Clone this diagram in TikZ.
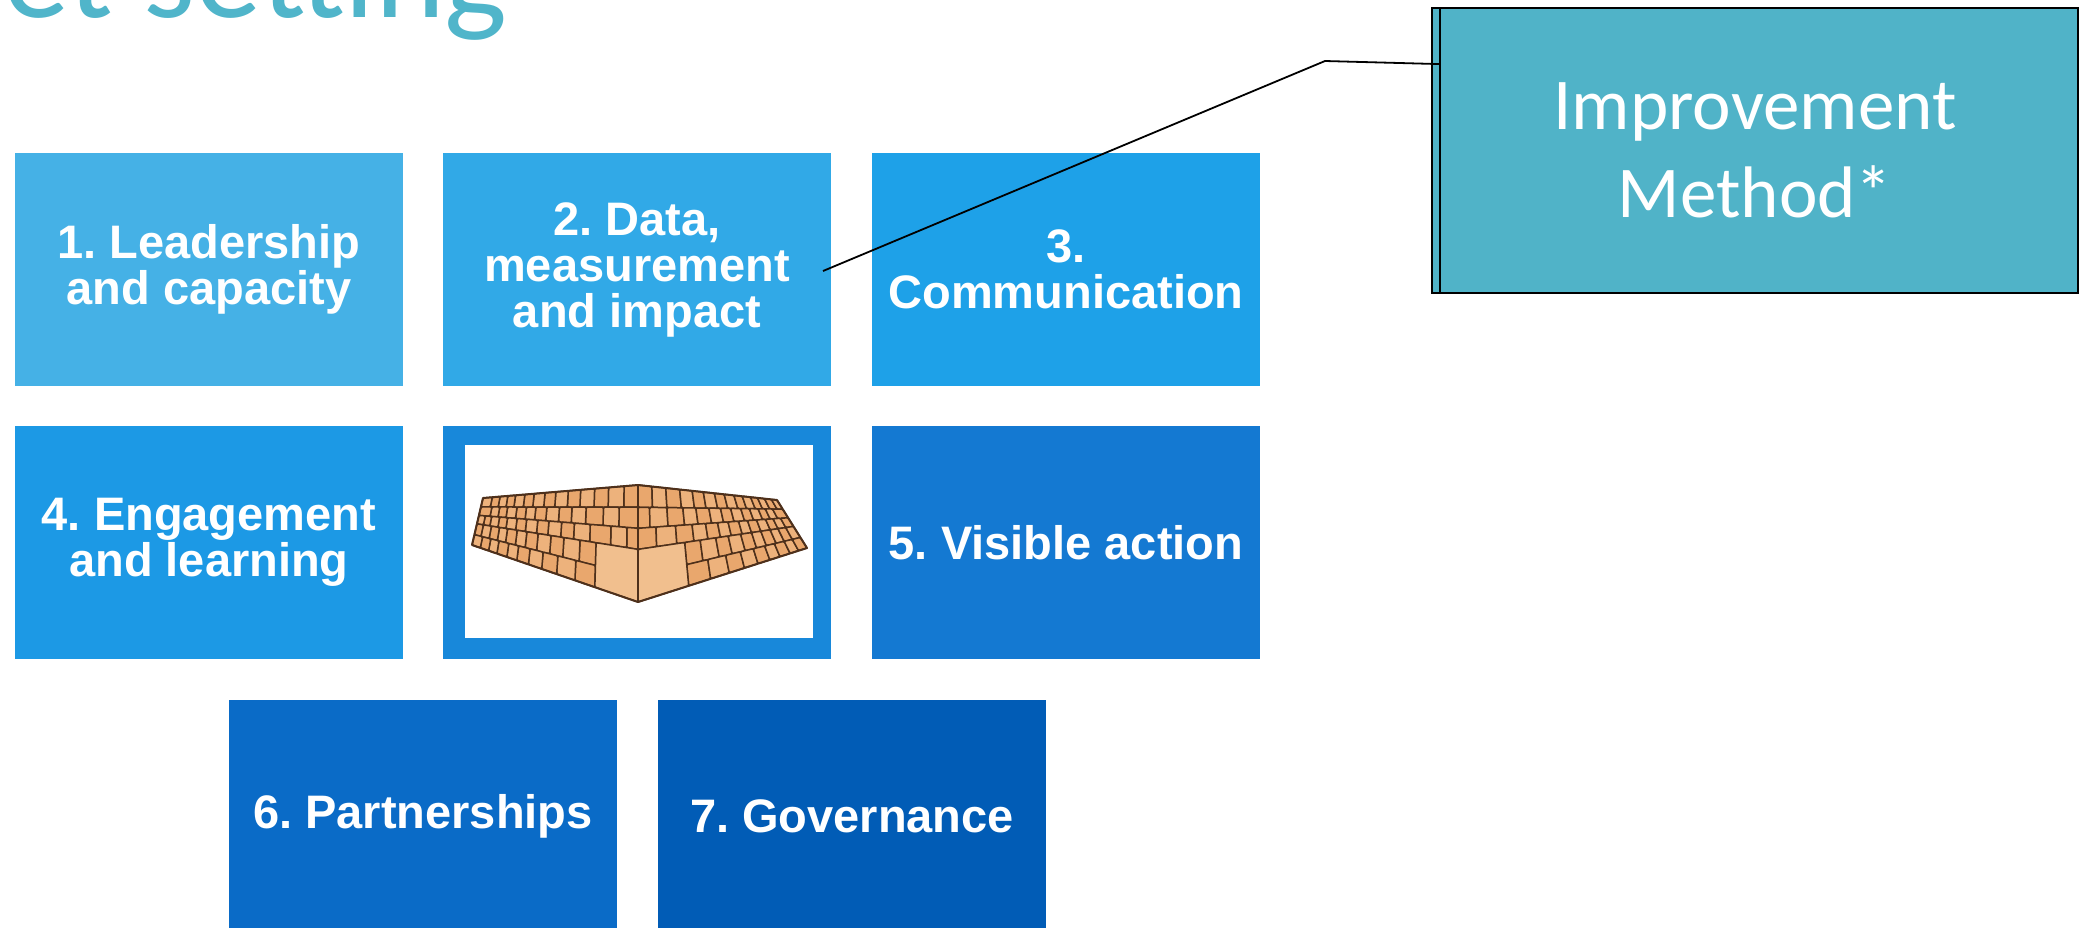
\documentclass[tikz,border=0pt]{standalone}
\usepackage{fontspec}
\setmainfont{Liberation Sans}
\newfontfamily\calibrifont{Carlito}
\usetikzlibrary{calc}
\frenchspacing

\definecolor{tileone}{HTML}{45B1E6}
\definecolor{tiletwo}{HTML}{31A9E7}
\definecolor{tilethree}{HTML}{1EA1E8}
\definecolor{tilefour}{HTML}{1C99E5}
\definecolor{tilewall}{HTML}{1888DA}
\definecolor{tilefive}{HTML}{1479D2}
\definecolor{tilesix}{HTML}{0A6BC7}
\definecolor{tileseven}{HTML}{015CB6}
\definecolor{calloutteal}{HTML}{50B3C8}
\definecolor{titleteal}{HTML}{50B5CA}
\definecolor{stonetan}{HTML}{E9A76D}
\definecolor{stonetanalt}{HTML}{EDB27C}
\definecolor{stonebig}{HTML}{F1BF8E}
\definecolor{stoneedge}{HTML}{4E301B}

% row of the wall: corner point and far point at fraction #3 of the height
\newcommand\wallrow[3]{%
  \coordinate (#1#2c) at ($(#1Ct)!#3!(#1Cb)$);
  \coordinate (#1#2f) at ($(#1Ft)!#3!(#1Fb)$);}
% one stone on face #1 between rows #2 and #3, from #4 to #5 along the face
\newcommand\wallstone[6]{%
  \filldraw[#6] ($(#1#2c)!#4!(#1#2f)$) -- ($(#1#2c)!#5!(#1#2f)$)
    -- ($(#1#3c)!#5!(#1#3f)$) -- ($(#1#3c)!#4!(#1#3f)$) -- cycle;}
% a course of stones: face, rows, first edge, remaining edges
\newcommand\stonecourse[5]{%
  \foreach \s [remember=\s as \p (initially #4), count=\k] in {#5}{%
    \ifodd\k \wallstone{#1}{#2}{#3}{\p}{\s}{stone}%
    \else \wallstone{#1}{#2}{#3}{\p}{\s}{stonealt}\fi}}

\begin{document}
\begin{tikzpicture}[x=0.5pt,y=-0.5pt,
  tile/.style={rectangle, minimum width=194pt, minimum height=116.5pt,
    inner sep=0pt, text=white, align=center,
    font=\bfseries\fontsize{23.5}{23}\selectfont},
  callout/.style={rectangle, draw=black, line width=0.9pt, fill=calloutteal,
    minimum width=323pt, minimum height=142.5pt, inner sep=0pt,
    text=white, align=center, font=\calibrifont\fontsize{36.5}{44}\selectfont},
  leader/.style={draw=black, line width=0.9pt},
  stone/.style={fill=stonetan, draw=stoneedge, line width=0.75pt, rounded corners=0.6pt},
  stonealt/.style={stone, fill=stonetanalt},
  bigstone/.style={stone, fill=stonebig}]

\useasboundingbox (0,0) rectangle (2088,927);
\fill[white] (0,0) rectangle (2088,927);
\clip (0,0) rectangle (2088,927);

% heading
\node[anchor=base west, inner sep=0pt, text=titleteal,
  font=\calibrifont\fontsize{66.5}{70}\selectfont] (title) at (3,17) {et setting};

% tiles
\node[tile, fill=tileone]   (b1) at (209,269.5) {1. Leadership\\and capacity};
\node[tile, fill=tiletwo]   (b2) at (637,269.5) {2. Data,\\measurement\\and impact};
\node[tile, fill=tilethree] (b3) at (1066,269.5) {3.\\Communication};
\node[tile, fill=tilefour]  (b4) at (209,542.5) {4. Engagement\\and learning};
\node[tile, fill=tilewall]  (bw) at (637,542.5) {};
\node[tile, fill=tilefive]  (b5) at (1066,542.5) {5. Visible action};
\node[tile, fill=tilesix]   (b6) at (423,816.5) {6. Partnerships};
\node[tile, fill=tileseven] (b7) at (852,816.5) {7. Governance};

% picture panel with the stone wall
\node[rectangle, fill=white, minimum width=174pt, minimum height=96.5pt,
  inner sep=0pt] (wallpanel) at (639,541.5) {};

\coordinate (LCt) at (638,485); \coordinate (LCb) at (638,602);
\coordinate (LFt) at (483,498); \coordinate (LFb) at (472,545);
\coordinate (RCt) at (638,485); \coordinate (RCb) at (638,602);
\coordinate (RFt) at (777,500); \coordinate (RFb) at (807,548);

\fill[stoneedge] (LFt) -- (LCt) -- (RFt) -- (RFb) -- (RCb) -- (LFb) -- cycle;

\foreach \f in {L,R}{
  \wallrow{\f}{0}{0}
  \wallrow{\f}{1}{0.19}
  \wallrow{\f}{2}{0.37}
  \wallrow{\f}{3}{0.55}
  \wallrow{\f}{4}{0.78}
  \wallrow{\f}{5}{1}
}

% left face
\stonecourse{L}{0}{1}{0}{.09,.19,.28,.37,.45,.53,.60,.67,.73,.79,.84,.89,.94,1}
\stonecourse{L}{1}{2}{0}{.12,.22,.33,.42,.50,.58,.65,.71,.77,.83,.88,.93,1}
\stonecourse{L}{2}{3}{0}{.07,.17,.30,.40,.48,.56,.63,.70,.76,.82,.87,.92,.96,1}
\stonecourse{L}{3}{4}{.26}{.36,.46,.54,.62,.69,.75,.81,.86,.91,.96,1}
\stonecourse{L}{4}{5}{.26}{.38,.49,.58,.66,.73,.79,.85,.90,.95,1}
\wallstone{L}{3}{5}{0}{.26}{bigstone}

% right face
\stonecourse{R}{0}{1}{0}{.10,.20,.30,.39,.47,.55,.62,.69,.75,.81,.86,.91,.96,1}
\stonecourse{R}{1}{2}{0}{.08,.20,.31,.40,.49,.57,.64,.71,.77,.83,.88,.93,1}
\stonecourse{R}{2}{3}{0}{.12,.25,.36,.45,.53,.60,.67,.73,.79,.85,.90,.95,1}
\stonecourse{R}{3}{4}{.30}{.40,.50,.58,.66,.73,.79,.85,.90,.95,1}
\stonecourse{R}{4}{5}{.30}{.43,.54,.63,.71,.78,.84,.90,.95,1}
\wallstone{R}{3}{5}{0}{.30}{bigstone}

\draw[stoneedge, line width=1pt, line join=round]
  (LFt) -- (LCt) -- (RFt) -- (RFb) -- (RCb) -- (LFb) -- cycle;
\draw[stoneedge, line width=0.9pt] (LCt) -- (LCb);

% callout
\node[callout] (imp) at (1755,150.5) {Improvement\\Method*};
\draw[line width=0.9pt] ([xshift=4.5pt]imp.north west) -- ([xshift=4.5pt]imp.south west);

\coordinate (tip)  at (823,271);
\coordinate (bend) at (1325,61);
\coordinate (join) at ($(imp.north west)+(9,57)$);
\draw[leader] (tip) -- (bend) -- (join);

\end{tikzpicture}
\end{document}
